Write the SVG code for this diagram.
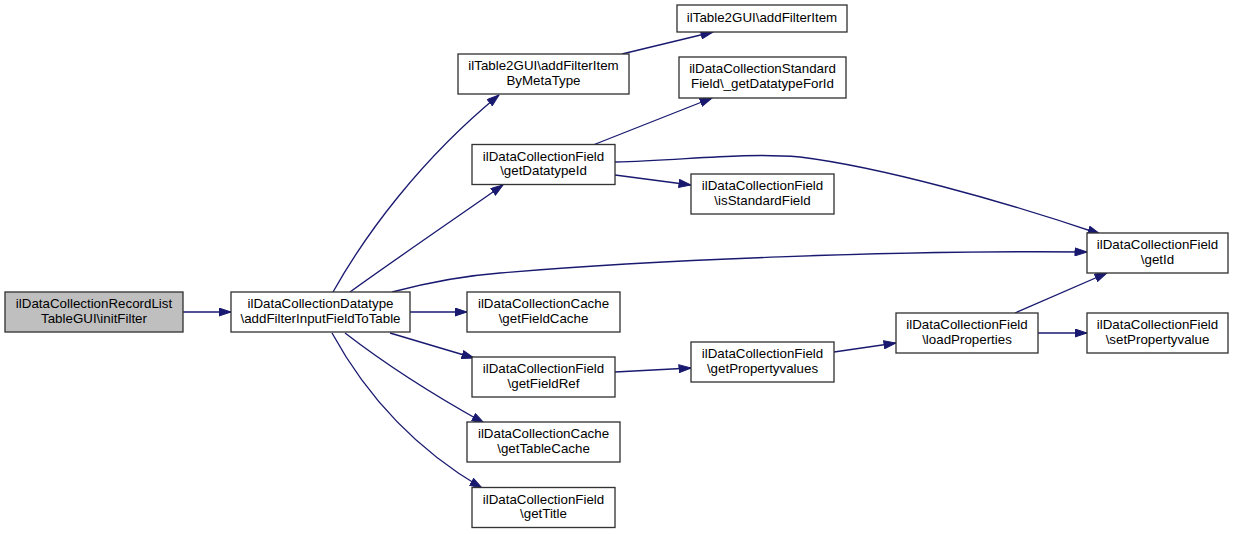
<svg xmlns="http://www.w3.org/2000/svg" width="1235" height="534" viewBox="0 0 1235 534">
<style>
  .node rect { fill: #ffffff; stroke: #333333; stroke-width: 1.33; }
  .node.root rect { fill: #bfbfbf; }
  .node text { font-family: "Liberation Sans", Arial, Helvetica, sans-serif; font-size: 13.33px; fill: #000000; text-anchor: middle; }
  .edges path { fill: none; stroke: #191970; stroke-width: 1.33; marker-end: url(#arrow); }
</style>
<defs>
  <marker id="arrow" viewBox="0 0 13 9" refX="12.5" refY="4.5" markerWidth="13" markerHeight="9" markerUnits="userSpaceOnUse" orient="auto">
    <path d="M0.5,0.5 L12.5,4.5 L0.5,8.5 z" fill="#191970" stroke="#191970" stroke-width="1"/>
  </marker>
</defs>
<rect x="0" y="0" width="1235" height="534" fill="#ffffff"/>
<g id="connectors" class="edges">
  <path d="M183,312 L231,312"/>
  <path d="M333,292 C365,235 420,160 499,95"/>
  <path d="M350,292 C390,263 450,222 503,185"/>
  <path d="M392,292 C430,282 460,276 500,273 C650,260 900,250 1087,252"/>
  <path d="M615,162 C680,161 740,152 800,157 C880,167 1000,200 1100,234"/>
  <path d="M615,175 L691,185"/>
  <path d="M593,145 L712,98"/>
  <path d="M622,54 L713,32"/>
  <path d="M410,312 L467,312"/>
  <path d="M390,333 L474,358"/>
  <path d="M345,333 C380,360 430,393 484,423"/>
  <path d="M332,333 C355,375 400,440 482,488"/>
  <path d="M615,372 L691,368"/>
  <path d="M834,352 L896,343"/>
  <path d="M1015,313 L1107,273"/>
  <path d="M1038,333 L1087,333"/>
</g>
<g id="node-initFilter" class="node root">
  <rect x="5" y="292" width="178" height="40"/>
  <text x="94" y="308">ilDataCollectionRecordList</text>
  <text x="94" y="322.5">TableGUI\initFilter</text>
</g>
<g id="node-addFilterInputFieldToTable" class="node">
  <rect x="231" y="292" width="179" height="40"/>
  <text x="320.5" y="308">ilDataCollectionDatatype</text>
  <text x="320.5" y="322.5">\addFilterInputFieldToTable</text>
</g>
<g id="node-addFilterItemByMetaType" class="node">
  <rect x="458" y="54" width="171" height="40"/>
  <text x="543.5" y="70">ilTable2GUI\addFilterItem</text>
  <text x="543.5" y="84.5">ByMetaType</text>
</g>
<g id="node-addFilterItem" class="node">
  <rect x="677" y="5" width="170" height="27"/>
  <text x="762" y="22">ilTable2GUI\addFilterItem</text>
</g>
<g id="node-getDatatypeForId" class="node">
  <rect x="679" y="57" width="167" height="41"/>
  <text x="762.5" y="73">ilDataCollectionStandard</text>
  <text x="762.5" y="87.5">Field\_getDatatypeForId</text>
</g>
<g id="node-getDatatypeId" class="node">
  <rect x="472" y="144.5" width="143" height="40"/>
  <text x="543.5" y="160.5">ilDataCollectionField</text>
  <text x="543.5" y="175">\getDatatypeId</text>
</g>
<g id="node-isStandardField" class="node">
  <rect x="691" y="174" width="143" height="40"/>
  <text x="762.5" y="190">ilDataCollectionField</text>
  <text x="762.5" y="204.5">\isStandardField</text>
</g>
<g id="node-getId" class="node">
  <rect x="1087" y="233" width="141" height="40"/>
  <text x="1157.5" y="249">ilDataCollectionField</text>
  <text x="1157.5" y="263.5">\getId</text>
</g>
<g id="node-getFieldCache" class="node">
  <rect x="467" y="292" width="153" height="40"/>
  <text x="543.5" y="308">ilDataCollectionCache</text>
  <text x="543.5" y="322.5">\getFieldCache</text>
</g>
<g id="node-getFieldRef" class="node">
  <rect x="472" y="357" width="143" height="40"/>
  <text x="543.5" y="373">ilDataCollectionField</text>
  <text x="543.5" y="387.5">\getFieldRef</text>
</g>
<g id="node-getTableCache" class="node">
  <rect x="467" y="422" width="153" height="40"/>
  <text x="543.5" y="438">ilDataCollectionCache</text>
  <text x="543.5" y="452.5">\getTableCache</text>
</g>
<g id="node-getTitle" class="node">
  <rect x="472" y="487.5" width="143" height="40"/>
  <text x="543.5" y="503.5">ilDataCollectionField</text>
  <text x="543.5" y="518">\getTitle</text>
</g>
<g id="node-getPropertyvalues" class="node">
  <rect x="691" y="342" width="143" height="40"/>
  <text x="762.5" y="358">ilDataCollectionField</text>
  <text x="762.5" y="372.5">\getPropertyvalues</text>
</g>
<g id="node-loadProperties" class="node">
  <rect x="896" y="313" width="142" height="40"/>
  <text x="967" y="329">ilDataCollectionField</text>
  <text x="967" y="343.5">\loadProperties</text>
</g>
<g id="node-setPropertyvalue" class="node">
  <rect x="1087" y="313" width="141" height="40"/>
  <text x="1157.5" y="329">ilDataCollectionField</text>
  <text x="1157.5" y="343.5">\setPropertyvalue</text>
</g>
</svg>
